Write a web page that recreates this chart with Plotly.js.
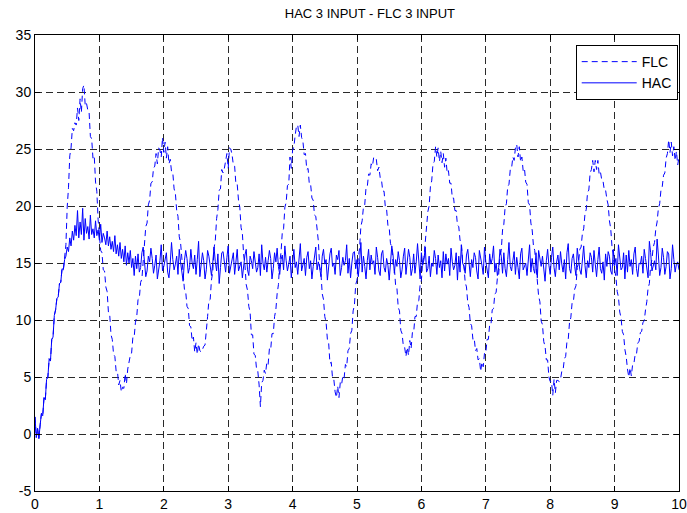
<!DOCTYPE html>
<html>
<head>
<meta charset="utf-8">
<script src="https://cdn.plot.ly/plotly-3.0.1.min.js"></script>
<style>
html,body{margin:0;padding:0;background:#fff;}
#chart{width:687px;height:513px;}
</style>
</head>
<body>
<div id="chart"></div>
<script>
// Sample spacing of both recorded signals (seconds)
const t0 = 0;
const dt = 0.02;

const xTicks = [0,1,2,3,4,5,6,7,8,9,10];
const yTicks = [-5,0,5,10,15,20,25,30,35];

// FLC response, one value every 0.02 s from t = 0 to 10
const flc = [
 1.5,-0.3,0.5,-0.4,0.8,1.8,1.6,3.2,3.0,4.8,
 5.0,6.6,6.4,8.3,8.5,10.4,10.9,11.9,12.0,13.2,
 13.3,14.5,14.4,15.3,16.6,19.9,21.6,24.4,25.1,26.8,
 26.6,27.3,27.1,28.6,27.5,29.4,28.2,30.3,30.6,28.8,
 29.0,28.4,28.2,26.1,25.9,24.2,24.4,22.1,21.3,18.8,
 17.6,16.1,15.9,14.4,14.3,12.9,12.5,10.7,10.5,8.7,
 8.3,7.0,6.8,5.5,5.5,4.3,4.7,3.7,4.1,4.0,
 5.3,4.4,5.7,6.5,6.9,7.1,8.5,8.5,9.8,10.3,
 11.8,11.9,13.3,13.6,15.4,16.3,18.2,18.5,20.1,20.5,
 22.0,22.1,23.3,23.5,24.6,23.7,25.1,24.9,24.3,26.0,
 24.7,25.6,24.2,25.2,23.7,24.1,23.0,22.9,21.5,21.1,
 19.6,19.1,17.3,16.8,14.9,14.1,12.7,12.5,11.2,11.0,
 9.5,9.4,8.2,8.5,7.2,8.0,7.0,7.9,7.3,7.2,
 7.4,7.7,7.8,9.5,10.3,11.7,11.8,13.5,14.2,16.3,
 17.0,18.9,19.7,21.4,21.5,23.2,22.9,23.3,23.8,24.6,
 23.3,25.1,25.0,24.5,23.6,23.5,21.9,21.9,20.5,19.9,
 18.1,17.6,15.7,14.8,13.1,12.6,11.2,10.7,8.7,8.7,
 7.0,6.9,5.7,5.5,4.3,2.4,4.5,4.7,5.6,5.3,
 6.3,6.1,7.5,7.4,8.8,8.8,10.3,10.9,12.3,13.1,
 15.1,15.9,17.7,18.0,19.9,20.3,21.8,21.9,24.3,23.3,
 24.9,25.2,26.2,27.0,27.1,26.1,27.1,26.0,25.7,24.5,
 24.6,23.2,23.3,21.9,21.9,20.7,20.5,19.2,19.1,17.9,
 16.9,14.7,14.1,12.3,11.8,10.3,9.8,8.3,8.0,6.2,
 6.3,4.9,4.8,3.7,3.2,4.2,3.2,4.5,4.3,5.1,
 4.9,6.1,5.9,7.3,7.5,8.8,9.1,10.8,11.3,13.1,
 13.5,15.5,16.3,18.2,18.7,19.9,20.1,21.6,21.7,22.8,
 22.7,23.7,23.5,24.3,24.2,24.1,23.1,23.4,22.5,22.3,
 21.3,21.3,19.9,19.7,18.3,18.1,16.7,16.4,14.9,14.6,
 13.0,12.8,11.1,10.8,9.1,8.8,7.7,7.6,6.8,7.6,
 6.9,8.2,7.5,8.9,8.9,10.3,10.3,11.6,11.7,13.1,
 13.5,15.1,15.5,17.0,17.7,19.5,20.0,21.7,22.2,23.7,
 23.9,25.2,24.3,25.1,23.9,24.8,23.8,24.6,23.4,24.2,
 22.9,23.1,22.0,22.0,20.7,20.7,19.6,19.6,18.3,18.2,
 17.0,16.8,15.2,14.8,13.3,12.9,11.5,11.1,9.7,9.5,
 8.3,8.4,7.3,7.5,6.5,6.6,5.5,6.3,5.9,7.1,
 7.1,8.3,8.3,9.6,9.6,10.9,11.0,12.3,12.4,13.7,
 14.0,15.6,16.1,17.9,18.4,19.9,20.2,21.7,21.9,23.2,
 23.3,24.3,24.0,25.1,25.4,24.3,25.2,23.9,24.3,23.1,
 23.3,22.1,21.9,20.3,20.1,18.5,17.9,16.5,16.1,14.6,
 13.9,12.1,11.6,9.9,9.6,8.1,7.7,6.5,6.5,5.0,
 4.6,4.6,3.4,4.8,3.6,4.7,4.7,4.6,4.8,5.5,
 5.6,6.6,6.8,8.1,8.3,9.8,10.2,11.5,11.6,12.7,
 13.0,14.6,15.0,16.2,16.4,17.6,18.0,19.3,19.7,21.2,
 21.4,22.9,23.2,24.0,23.0,24.0,23.2,24.0,22.8,23.0,
 22.3,22.2,21.4,21.4,20.6,20.1,18.7,18.0,16.4,15.7,
 14.4,13.8,12.5,12.0,10.7,10.2,9.0,8.7,7.4,6.8,
 5.7,5.0,5.8,5.1,6.1,6.2,7.0,7.0,8.0,8.1,
 8.9,9.0,9.8,9.9,10.9,11.6,12.8,13.2,14.8,15.3,
 16.4,16.8,18.0,18.6,19.8,20.2,21.4,21.7,22.7,22.9,
 24.2,24.6,25.8,24.7,25.6,24.4,25.2,24.0,24.8,23.6,
 24.3
];

// HAC response, one value every 0.02 s from t = 0 to 10
const hac = [
 1.5,-0.3,0.5,-0.4,0.8,1.8,1.6,3.2,3.0,4.8,
 5.0,6.6,6.4,8.3,8.5,10.4,10.9,11.9,12.0,13.2,
 13.3,14.5,14.4,15.3,15.6,16.4,16.0,17.2,16.5,17.8,
 17.0,18.3,17.4,19.6,17.2,18.6,17.5,19.8,17.0,18.9,
 17.6,18.2,17.1,19.2,17.5,18.0,17.2,18.7,17.4,17.9,
 17.0,18.4,16.8,17.6,17.2,16.6,17.8,16.5,17.3,16.2,
 16.9,16.0,17.4,15.8,16.6,15.6,16.8,15.4,16.2,15.1,
 16.5,14.8,15.9,15.0,16.1,14.6,15.4,13.9,15.6,14.5,
 15.8,14.2,14.6,15.9,16.4,14.9,13.8,14.3,15.6,15.1,
 16.3,15.4,14.1,14.8,15.7,13.6,14.4,15.2,16.6,14.3,
 14.7,15.5,15.9,14.2,13.7,15.0,16.8,15.3,14.4,14.9,
 15.6,14.0,16.2,15.1,13.9,13.4,15.2,16.1,15.4,14.1,
 14.6,16.2,15.0,14.5,15.7,14.0,15.3,16.9,13.8,14.7,
 15.9,15.2,13.6,14.4,16.1,15.6,14.8,13.9,15.0,16.4,
 15.1,14.3,15.8,13.2,14.6,15.9,16.0,14.9,14.2,15.5,
 16.5,14.1,14.7,15.6,15.9,14.0,15.4,16.2,14.3,14.8,
 15.1,13.7,15.0,15.7,16.2,14.4,13.9,15.6,15.2,14.5,
 16.0,15.3,14.2,14.6,15.8,13.9,16.6,15.0,14.4,15.5,
 14.2,15.2,16.1,15.4,13.6,14.5,15.9,15.1,16.3,14.7,
 14.0,15.3,15.7,14.4,16.5,15.2,14.3,14.9,15.6,13.7,
 15.2,16.2,14.6,15.1,14.0,15.8,16.7,14.3,14.8,15.4,
 13.9,15.5,16.0,14.5,15.2,13.6,14.7,15.9,16.4,14.4,
 15.1,14.6,13.8,15.6,16.2,14.9,15.3,13.5,14.8,15.8,
 16.3,14.7,15.0,14.0,15.7,15.3,16.1,13.9,14.6,15.5,
 14.8,15.2,16.6,14.1,15.4,13.7,15.0,15.9,16.0,14.5,
 15.3,13.8,15.1,16.8,14.2,15.6,14.7,13.6,15.2,16.2,
 14.4,15.7,14.9,15.2,14.0,16.4,15.5,14.3,13.9,15.8,
 16.1,14.6,14.2,15.4,14.8,13.5,15.0,16.5,15.7,14.1,
 15.3,14.7,16.0,15.2,13.7,14.4,15.6,16.3,14.0,14.9,
 16.2,15.5,13.9,14.5,15.8,14.1,15.1,16.7,14.6,13.6,
 15.9,14.8,15.3,16.4,14.2,14.5,15.6,13.8,15.0,14.7,
 16.1,15.4,14.0,15.7,14.6,15.2,13.7,16.0,14.3,15.8,
 14.9,15.4,13.9,16.3,15.1,14.4,14.8,15.9,13.5,15.6,
 14.2,16.6,15.0,14.7,14.1,15.7,16.2,14.5,13.8,15.3,
 14.6,15.9,15.5,14.3,13.6,16.1,15.2,14.8,14.0,16.4,
 15.1,14.4,13.7,15.8,14.9,15.4,16.5,14.2,15.0,13.9,
 14.6,16.2,15.6,14.1,15.9,14.5,13.8,15.3,16.8,14.7,
 14.3,15.2,16.0,14.0,15.5,14.6,13.6,15.8,16.3,14.4,
 14.8,15.0,13.9,15.7,16.6,14.2,15.4,14.5,14.1,15.9,
 13.7,16.1,15.3,14.7,15.6,14.3,13.4,15.2,16.2,14.8,
 14.0,15.5,16.4,14.6,13.8,15.1,15.7,14.4,16.0,14.9,
 14.2,15.3,13.6,15.9,16.7,14.5,14.1,15.4,15.8,14.7,
 13.9,16.3,15.0,14.4,14.0,15.6,16.5,14.8,13.7,15.2,
 14.6,15.9,15.5,14.2,16.1,14.9,13.8,15.3,16.4,14.5,
 14.1,15.1,13.5,15.8,14.7,16.0,15.6,14.3,14.0,16.2,
 14.8,15.4,13.9,16.6,15.2,14.4,14.6,15.9,13.6,15.7,
 14.2,16.1,14.7,15.3,14.0,15.8,16.4,14.5,13.8,15.0,
 14.9,15.6,14.1,16.2,15.4,14.6,13.7,16.9,15.9,14.3,
 14.8,15.2,14.4,17.1,15.7,13.9,14.6,16.3,15.5,14.0,
 14.7,16.0,15.8,13.6,14.5,16.6,15.3,14.2,14.9,15.1,
 14.4
];

const seriesNames = ['FLC', 'HAC'];
const chartTitle = 'HAC 3 INPUT - FLC 3 INPUT';

const font = 'Liberation Sans, Arial, sans-serif';

const traces = [
  {
    type: 'scatter', mode: 'lines', name: seriesNames[0],
    x0: t0, dx: dt, y: flc,
    line: {color: '#0000ff', width: 1, dash: '6px,4px'}
  },
  {
    type: 'scatter', mode: 'lines', name: seriesNames[1],
    x0: t0, dx: dt, y: hac,
    line: {color: '#0000ff', width: 1}
  }
];

const axisCommon = {
  showline: true, linecolor: '#000', linewidth: 1, mirror: 'ticks',
  ticks: 'inside', ticklen: 5, tickcolor: '#000', tickwidth: 1,
  showgrid: true, gridcolor: '#2a2a2a', gridwidth: 1, griddash: '7px,4px',
  zeroline: false, tickfont: {family: font, size: 14, color: '#000'},
  fixedrange: true
};

const layout = {
  width: 687, height: 513,
  margin: {l: 35, r: 8, t: 35, b: 22, pad: 0},
  paper_bgcolor: '#fff', plot_bgcolor: '#fff',
  title: {text: chartTitle, font: {family: font, size: 13, color: '#000'},
          x: 0.52, xref: 'paper', y: 0.973, yref: 'container', yanchor: 'middle'},
  xaxis: Object.assign({}, axisCommon, {range: [0, 10], tickvals: xTicks, ticktext: xTicks.map(String)}),
  yaxis: Object.assign({}, axisCommon, {range: [-5, 35], tickvals: yTicks, ticktext: yTicks.map(String)}),
  showlegend: true,
  legend: {x: 0.998, xanchor: 'right', y: 0.978, yanchor: 'top',
           bgcolor: '#fff', bordercolor: '#000', borderwidth: 1, itemwidth: 55,
           font: {family: font, size: 14, color: '#000'}, tracegroupgap: 0}
};

Plotly.newPlot('chart', traces, layout, {displayModeBar: false, staticPlot: true});
</script>
</body>
</html>
